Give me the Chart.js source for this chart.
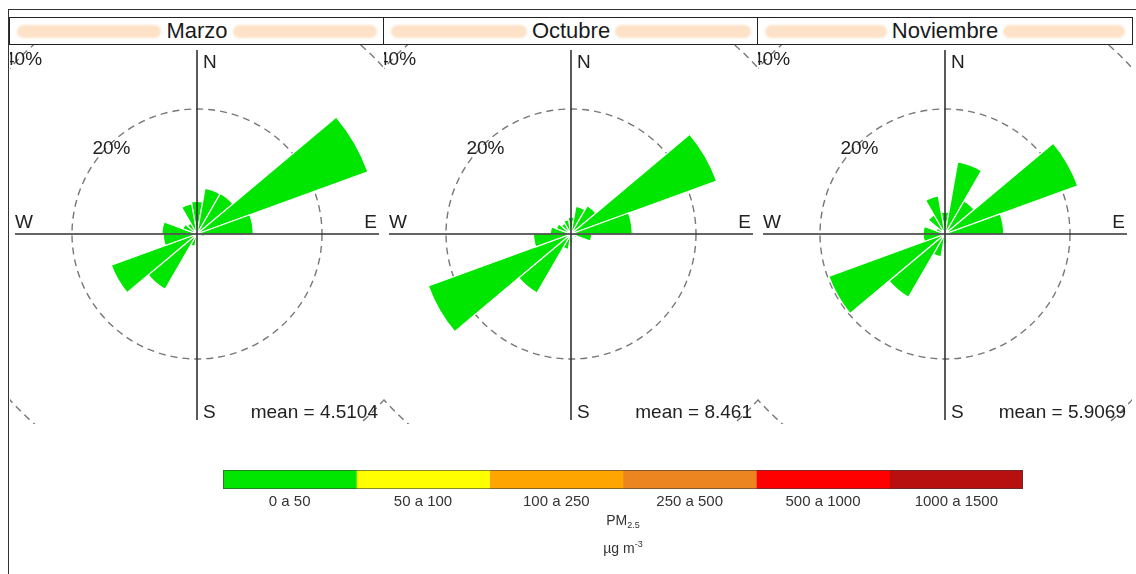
<!DOCTYPE html>
<html>
<head>
<meta charset="utf-8">
<title>PM2.5 pollution rose</title>
<script src="https://cdn.jsdelivr.net/npm/chart.js@4.4.1/dist/chart.umd.min.js"></script>
<style>
  html, body { margin: 0; padding: 0; background: #fff; }
  body { width: 1136px; height: 574px; position: relative; overflow: hidden;
         font-family: "Liberation Sans", Arial, Helvetica, sans-serif; color: #222; }
  .frame-top { position: absolute; left: 8px; top: 9px; width: 1128px; height: 0; border-top: 1.5px solid #333; }
  .frame-left { position: absolute; left: 8px; top: 9px; width: 0; height: 565px; border-left: 1.5px solid #333; }
  .strip { position: absolute; top: 17px; height: 28px; box-sizing: border-box; border: 1.5px solid #222;
           display: flex; align-items: center; padding: 0 7px; gap: 5px; background: #fff; }
  .strip .shade { flex: 1; height: 13px; border-radius: 7px; background: #fde2c8; filter: blur(0.8px); }
  .strip .name { font-size: 22px; line-height: 22px; color: #1a1a1a; white-space: nowrap; }
  .panel { position: absolute; top: 45px; width: 374px; height: 379px; overflow: hidden; }
  .panel .rose { position: absolute; left: -73px; top: -71px; width: 520px; height: 520px; }
  .key { position: absolute; left: 223px; top: 470px; width: 800px; height: 60px; }
  .key-title { position: absolute; left: 523px; width: 200px; text-align: center; font-size: 14px; color: #333; }
  .key-title sub { font-size: 9px; vertical-align: -3px; }
  .key-title sup { font-size: 9px; vertical-align: 6px; }
</style>
</head>
<body>
<div class="frame-top"></div>
<div class="frame-left"></div>

<div class="strip" style="left:9px;width:376px;"><div class="shade"></div><div class="name">Marzo</div><div class="shade"></div></div>
<div class="strip" style="left:383px;width:376px;"><div class="shade"></div><div class="name">Octubre</div><div class="shade"></div></div>
<div class="strip" style="left:757px;width:376px;"><div class="shade"></div><div class="name">Noviembre</div><div class="shade"></div></div>

<div class="panel" style="left:10px;"><canvas class="rose" id="rose0" width="520" height="520"></canvas></div>
<div class="panel" style="left:384px;"><canvas class="rose" id="rose1" width="520" height="520"></canvas></div>
<div class="panel" style="left:758px;"><canvas class="rose" id="rose2" width="520" height="520"></canvas></div>

<canvas class="key" id="key" width="800" height="60"></canvas>
<div class="key-title" style="top:512px;">PM<sub>2.5</sub></div>
<div class="key-title" style="top:539px;">&micro;g m<sup>-3</sup></div>

<script>
// Wind direction bins (degrees, bin centre), 20 degree sectors
const directions = [0, 20, 40, 60, 80, 100, 120, 140, 160, 180, 200, 220, 240, 260, 280, 300, 320, 340];

// Frequency of counts by wind direction (%), PM2.5 class 0 a 50
const marzo     = [5.2, 7.4, 7.5, 29.1, 9.0, 1.2, 0.8, 0.7, 0.8, 1.0, 2.0, 10.2, 14.6, 5.4, 5.6, 2.4, 2.0, 4.9];
const octubre   = [2.7, 4.5, 5.2, 24.8, 9.8, 3.3, 1.0, 0.8, 1.0, 1.5, 2.5, 10.9, 24.3, 6.0, 3.3, 2.5, 2.0, 2.3];
const noviembre = [3.5, 11.7, 6.1, 22.6, 9.4, 1.0, 0.6, 0.5, 0.6, 1.5, 3.7, 11.7, 19.8, 3.5, 3.5, 1.5, 3.5, 6.2];

const months = ['Marzo', 'Octubre', 'Noviembre'];
const means = ['4.5104', '8.461', '5.9069'];

// Radial grid rings (%)
const ringLabels = [20, 40];
const radialMax = 41.6;

// Colour key: PM2.5 classes (ug m-3)
const keyLabels = ['0 a 50', '50 a 100', '100 a 250', '250 a 500', '500 a 1000', '1000 a 1500'];
const keyColors = ['#00e600', '#ffff00', '#ffa500', '#ec8420', '#ff0000', '#b81010'];

const FONT = '"Liberation Sans", Arial, Helvetica, sans-serif';

// Compass axes, ring labels and mean annotation on top of the sectors
const roseDecor = {
  id: 'roseDecor',
  afterDatasetsDraw(chart, args, opts) {
    const s = chart.scales.r;
    const ctx = chart.ctx;
    const cx = s.xCenter, cy = s.yCenter;
    ctx.save();
    ctx.fillStyle = '#fff';
    ctx.beginPath();
    ctx.arc(cx, cy, 4, 0, Math.PI * 2);
    ctx.fill();

    ctx.strokeStyle = '#333';
    ctx.lineWidth = 1.6;
    ctx.beginPath();
    ctx.moveTo(cx, cy - 184); ctx.lineTo(cx, cy + 186);
    ctx.moveTo(cx - 182, cy); ctx.lineTo(cx + 182, cy);
    ctx.stroke();

    ctx.fillStyle = '#222';
    ctx.font = '19px ' + FONT;
    ctx.textBaseline = 'alphabetic';
    ctx.textAlign = 'left';
    ctx.fillText('N', cx + 6, cy - 166);
    ctx.fillText('S', cx + 6, cy + 184);
    ctx.fillText('W', cx - 182, cy - 6);
    ctx.textAlign = 'right';
    ctx.fillText('E', cx + 180, cy - 6);

    ctx.textAlign = 'center';
    ctx.textBaseline = 'middle';
    const a = -3 * Math.PI / 4;
    ringLabels.forEach(v => {
      const d = s.getDistanceFromCenterForValue(v) - 4;
      ctx.fillText(v + '%', cx + d * Math.cos(a), cy + d * Math.sin(a));
    });

    ctx.textAlign = 'right';
    ctx.textBaseline = 'alphabetic';
    ctx.fillText('mean = ' + opts.mean, cx + 181, cy + 184);
    ctx.restore();
  }
};

[marzo, octubre, noviembre].forEach((values, i) => {
  new Chart(document.getElementById('rose' + i), {
    type: 'polarArea',
    data: {
      labels: directions.map(String),
      datasets: [{
        label: months[i],
        data: values,
        backgroundColor: keyColors[0],
        borderColor: '#ffffff',
        borderWidth: 1.2
      }]
    },
    options: {
      responsive: false,
      animation: false,
      events: [],
      layout: { padding: 0 },
      scales: {
        r: {
          min: 0,
          max: radialMax,
          startAngle: -10,
          ticks: { display: false, stepSize: 20, includeBounds: false },
          grid: { circular: true, color: '#777', lineWidth: 1.4, borderDash: [7, 5] },
          border: { dash: [7, 5] },
          angleLines: { display: false },
          pointLabels: { display: false }
        }
      },
      plugins: {
        legend: { display: false },
        tooltip: { enabled: false },
        roseDecor: { mean: means[i] }
      }
    },
    plugins: [roseDecor]
  });
});

// Class labels under the colour key
const keyText = {
  id: 'keyText',
  afterDraw(chart) {
    const x = chart.scales.x;
    const area = chart.chartArea;
    const ctx = chart.ctx;
    ctx.save();
    ctx.strokeStyle = 'rgba(60,60,60,0.6)';
    ctx.lineWidth = 1;
    ctx.strokeRect(area.left + 0.5, area.top + 0.5, area.right - area.left - 1, area.bottom - area.top - 1);
    ctx.fillStyle = '#333';
    ctx.font = '15px ' + FONT;
    ctx.textAlign = 'center';
    ctx.textBaseline = 'middle';
    keyLabels.forEach((l, i) => ctx.fillText(l, x.getPixelForValue(i + 0.5), area.bottom + 13));
    ctx.restore();
  }
};

new Chart(document.getElementById('key'), {
  type: 'bar',
  data: {
    labels: ['PM2.5'],
    datasets: keyLabels.map((l, i) => ({
      label: l,
      data: [1],
      backgroundColor: keyColors[i],
      borderWidth: 0,
      barPercentage: 1,
      categoryPercentage: 1
    }))
  },
  options: {
    indexAxis: 'y',
    responsive: false,
    animation: false,
    events: [],
    layout: { padding: { left: 0, right: 0, top: 0, bottom: 41 } },
    scales: {
      x: { stacked: true, display: false, min: 0, max: keyLabels.length },
      y: { stacked: true, display: false }
    },
    plugins: { legend: { display: false }, tooltip: { enabled: false } }
  },
  plugins: [keyText]
});
</script>
</body>
</html>
